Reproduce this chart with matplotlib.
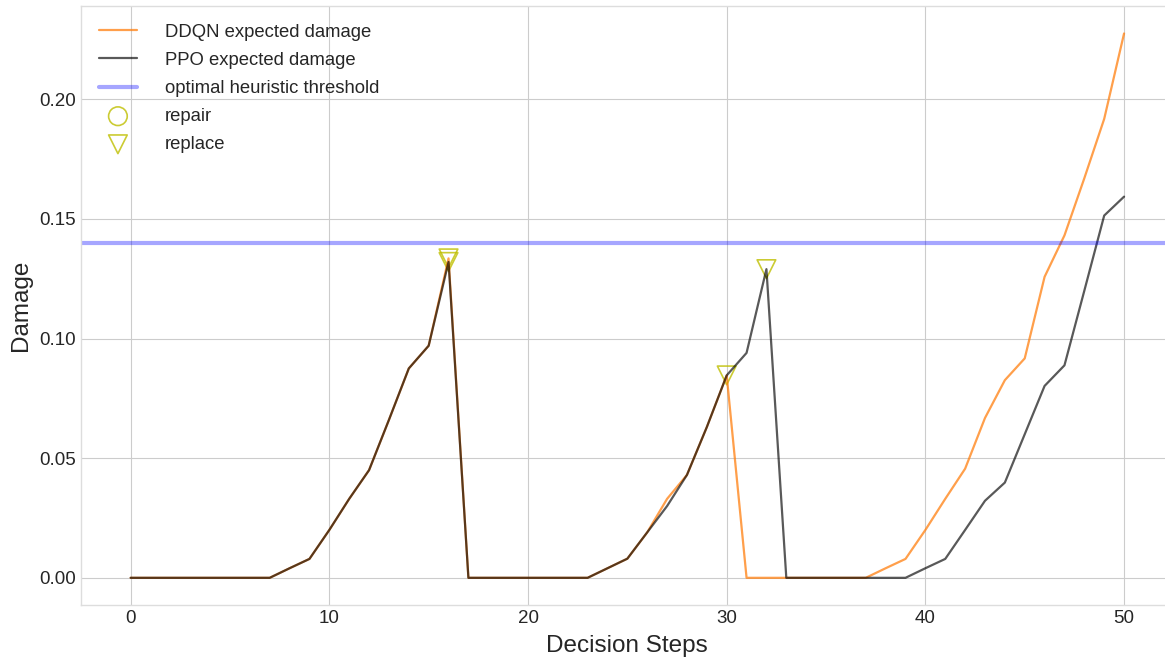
import matplotlib
matplotlib.use('Agg')
import matplotlib.pyplot as plt
import numpy as np

plt.style.use('seaborn-v0_8-whitegrid')
plt.rcParams['font.family'] = ['Liberation Sans', 'DejaVu Sans']

# decision steps 0..50
steps = np.arange(51)

ddqn = [0, 0, 0, 0, 0, 0, 0, 0, 0.004, 0.0079,
        0.020, 0.033, 0.045, 0.066, 0.0875, 0.097, 0.1335, 0, 0, 0,
        0, 0, 0, 0, 0.004, 0.008, 0.019, 0.033, 0.043, 0.063,
        0.0846, 0, 0, 0, 0, 0, 0, 0, 0.004, 0.0079,
        0.020, 0.033, 0.0456, 0.0668, 0.0826, 0.0917, 0.1258, 0.1431, 0.167, 0.1918,
        0.2275]

ppo = [0, 0, 0, 0, 0, 0, 0, 0, 0.004, 0.0079,
       0.020, 0.033, 0.045, 0.066, 0.0875, 0.097, 0.132, 0, 0, 0,
       0, 0, 0, 0, 0.004, 0.008, 0.019, 0.030, 0.043, 0.063,
       0.0846, 0.094, 0.129, 0, 0, 0, 0, 0, 0, 0,
       0.004, 0.0079, 0.020, 0.0322, 0.0398, 0.060, 0.0802, 0.0888, 0.120, 0.1514,
       0.1593]

threshold = 0.14

# replace actions (step, agent)
ddqn_replace = [16, 30]
ppo_replace = [16, 32]

fig = plt.figure(figsize=(11.65, 6.58), dpi=100)
ax = fig.add_axes([0.0695, 0.0805, 0.938, 0.910])

ax.plot(steps, ddqn, color='tab:orange', alpha=0.75, lw=1.6, label='DDQN expected damage')
ax.plot(steps, ppo, color='k', alpha=0.65, lw=1.6, label='PPO expected damage')
ax.axhline(threshold, color='b', alpha=0.35, lw=3, label='optimal heuristic threshold')

ax.scatter([], [], marker='o', s=180, facecolors='none', edgecolors='y', alpha=0.8,
           linewidths=1.2, label='repair')
rx = ddqn_replace + ppo_replace
ry = [ddqn[i] for i in ddqn_replace] + [ppo[i] for i in ppo_replace]
ax.scatter(rx, ry, marker='v', s=180, facecolors='none', edgecolors='y', alpha=0.8,
           linewidths=1.2, label='replace')

ax.set_xlabel('Decision Steps', fontsize=17.5, labelpad=6)
ax.set_ylabel('Damage', fontsize=17.5, labelpad=5)
ax.tick_params(labelsize=13.5)
ax.legend(loc='upper left', fontsize=13.3, frameon=False, labelspacing=0.6,
          handlelength=2.1, handletextpad=1.5, borderaxespad=0.55)

for s in ax.spines.values():
    s.set_visible(True)
    s.set_color('#dddddd')

fig.savefig('out.png', dpi=100)
